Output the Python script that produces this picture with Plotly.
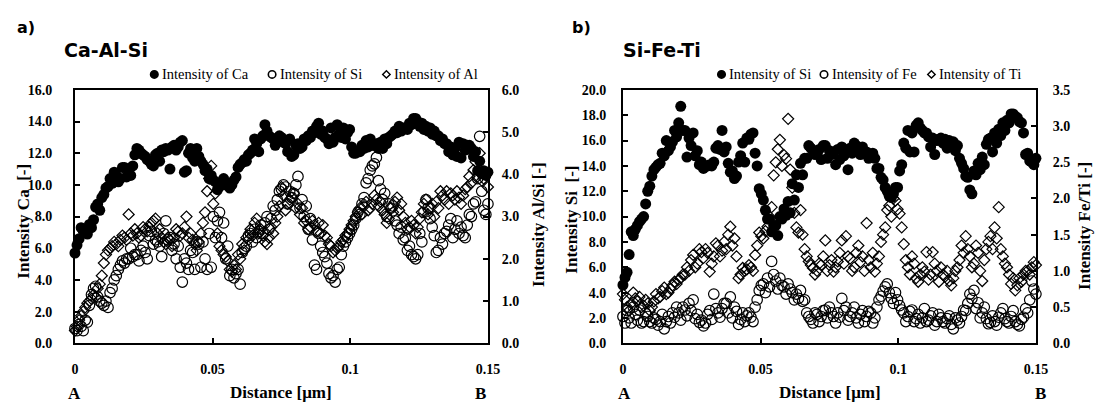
import plotly.graph_objects as go

# ---------------- data ----------------
DIST = [0.0, 0.0015, 0.003, 0.0045, 0.006, 0.0075, 0.009, 0.0105, 0.012, 0.0135,
        0.015, 0.0165, 0.018, 0.0195, 0.021, 0.0225, 0.024, 0.0255, 0.027, 0.0285,
        0.03, 0.0315, 0.033, 0.0345, 0.036, 0.0375, 0.039, 0.0405, 0.042, 0.0435,
        0.045, 0.0465, 0.048, 0.0495, 0.051, 0.0525, 0.054, 0.0555, 0.057, 0.0585,
        0.06, 0.0615, 0.063, 0.0645, 0.066, 0.0675, 0.069, 0.0705, 0.072, 0.0735,
        0.075, 0.0765, 0.078, 0.0795, 0.081, 0.0825, 0.084, 0.0855, 0.087, 0.0885,
        0.09, 0.0915, 0.093, 0.0945, 0.096, 0.0975, 0.099, 0.1005, 0.102, 0.1035,
        0.105, 0.1065, 0.108, 0.1095, 0.111, 0.1125, 0.114, 0.1155, 0.117, 0.1185,
        0.12, 0.1215, 0.123, 0.1245, 0.126, 0.1275, 0.129, 0.1305, 0.132, 0.1335,
        0.135, 0.1365, 0.138, 0.1395, 0.141, 0.1425, 0.144, 0.1455, 0.147, 0.1485, 0.15]

DIST_MID = [0.00075, 0.00225, 0.00375, 0.00525, 0.00675, 0.00825, 0.00975, 0.01125, 0.01275, 0.01425,
            0.01575, 0.01725, 0.01875, 0.02025, 0.02175, 0.02325, 0.02475, 0.02625, 0.02775, 0.02925,
            0.03075, 0.03225, 0.03375, 0.03525, 0.03675, 0.03825, 0.03975, 0.04125, 0.04275, 0.04425,
            0.04575, 0.04725, 0.04875, 0.05025, 0.05175, 0.05325, 0.05475, 0.05625, 0.05775, 0.05925,
            0.06075, 0.06225, 0.06375, 0.06525, 0.06675, 0.06825, 0.06975, 0.07125, 0.07275, 0.07425,
            0.07575, 0.07725, 0.07875, 0.08025, 0.08175, 0.08325, 0.08475, 0.08625, 0.08775, 0.08925,
            0.09075, 0.09225, 0.09375, 0.09525, 0.09675, 0.09825, 0.09975, 0.10125, 0.10275, 0.10425,
            0.10575, 0.10725, 0.10875, 0.11025, 0.11175, 0.11325, 0.11475, 0.11625, 0.11775, 0.11925,
            0.12075, 0.12225, 0.12375, 0.12525, 0.12675, 0.12825, 0.12975, 0.13125, 0.13275, 0.13425,
            0.13575, 0.13725, 0.13875, 0.14025, 0.14175, 0.14325, 0.14475, 0.14625, 0.14775, 0.14925]

# panel a) Ca-Al-Si
CA_A = [5.7, 6.6, 7.1, 6.9, 7.3, 8.6, 8.4, 9.4, 9.9, 10.1,
        10.6, 10.4, 11.1, 10.9, 11.2, 12.3, 12.0, 11.8, 11.5, 11.2,
        12.0, 12.2, 12.3, 11.0, 12.5, 12.4, 12.8, 10.9, 12.3, 11.5,
        11.8, 11.3, 11.0, 10.6, 10.2, 9.9, 10.4, 10.1, 10.0, 10.5,
        11.3, 11.6, 11.9, 12.2, 12.6, 12.9, 13.8, 13.1, 12.9, 12.7,
        13.0, 12.6, 12.9, 11.9, 12.6, 12.4, 12.8, 13.0, 13.3, 13.9,
        13.4, 12.9, 13.6, 13.0, 13.2, 13.6, 13.3, 12.4, 12.0, 12.1,
        12.3, 12.4, 12.5, 12.6, 12.7, 12.9, 13.0, 13.2, 13.3, 13.4,
        13.6, 13.9, 14.2, 14.0, 13.9, 13.7, 13.6, 13.4, 13.1, 12.9,
        12.6, 12.4, 12.3, 12.7, 12.6, 12.5, 12.3, 12.1, 11.5, 10.9, 10.8]
CA_A_MID = [6.2, 7.3, 7.0, 7.5, 7.8, 8.8, 9.2, 9.8, 10.4, 10.8,
            10.2, 11.1, 10.5, 10.6, 11.9, 12.2, 11.9, 11.6, 11.3, 11.9,
            11.5, 12.1, 12.2, 12.4, 12.2, 12.7, 10.8, 12.0, 11.7, 12.3,
            11.5, 10.9, 10.4, 10.3, 9.7, 10.1, 10.0, 9.8, 10.3, 11.1,
            11.4, 11.5, 12.0, 12.9, 12.1, 13.1, 13.4, 13.0, 12.5, 13.1,
            12.7, 12.1, 11.8, 12.5, 12.3, 12.9, 13.1, 13.4, 13.7, 13.2,
            13.0, 12.6, 12.7, 13.8, 13.0, 12.9, 13.5, 12.0, 12.1, 12.5,
            12.8, 12.9, 12.5, 12.3, 12.3, 12.6, 13.1, 13.4, 13.7, 13.6,
            13.5, 13.8, 14.2, 13.7, 13.5, 13.4, 13.2, 13.1, 12.8, 12.6,
            12.1, 11.9, 11.8, 11.7, 12.2, 12.5, 11.8, 10.9, 10.7, 10.6]

SI_A = [0.35, 0.45, 0.3, 0.5, 1.15, 1.35, 1.0, 0.9, 0.85, 1.3,
        1.6, 1.85, 1.9, 2.0, 2.05, 2.1, 2.2, 2.15, 2.55, 2.35,
        2.4, 2.05, 2.9, 2.5, 2.35, 2.3, 1.45, 1.9, 2.2, 1.75,
        2.35, 2.4, 1.75, 1.8, 2.5, 3.1, 2.85, 2.3, 1.75, 1.65,
        1.4, 2.25, 2.55, 2.4, 2.5, 2.8, 2.85, 2.7, 3.25, 3.4,
        3.65, 3.7, 3.6, 3.55, 3.95, 3.4, 3.25, 2.95, 1.85, 2.6,
        2.15, 1.9, 1.55, 1.45, 1.8, 2.3, 2.5, 2.7, 2.95, 3.05,
        3.45, 3.9, 4.2, 4.4, 3.65, 3.55, 3.3, 3.25, 2.8, 2.75,
        2.5, 2.3, 2.05, 2.1, 2.4, 3.4, 2.95, 2.55, 2.2, 2.35,
        2.65, 2.95, 2.7, 2.6, 2.55, 2.8, 3.0, 3.35, 4.9, 3.15, 3.3]
SI_A_MID = [0.3, 0.4, 0.55, 0.9, 1.3, 1.1, 0.95, 1.0, 1.2, 1.5,
            1.75, 1.95, 2.0, 2.25, 2.1, 1.95, 2.3, 2.0, 2.65, 2.45,
            2.3, 2.6, 2.45, 2.2, 2.0, 1.8, 2.0, 1.75, 2.15, 2.4,
            1.8, 2.0, 2.6, 3.0, 2.9, 2.5, 2.0, 1.6, 1.55, 1.75,
            2.15, 2.3, 2.6, 2.7, 2.65, 2.6, 3.0, 2.95, 3.15, 3.6,
            3.75, 3.3, 3.45, 3.75, 3.2, 3.0, 2.7, 2.45, 1.75, 2.3,
            2.05, 1.65, 1.6, 1.75, 2.1, 2.4, 2.6, 2.8, 3.1, 3.3,
            3.8, 4.1, 4.25, 3.85, 3.4, 3.0, 3.2, 2.9, 2.6, 2.45,
            2.2, 2.1, 2.0, 2.6, 3.1, 3.2, 2.75, 2.15, 2.5, 2.6,
            2.8, 2.5, 2.9, 2.75, 2.5, 3.05, 3.3, 3.9, 3.6, 3.05]

AL_A = [0.3, 0.55, 0.75, 0.95, 1.05, 1.1, 1.4, 1.9, 2.2, 2.3,
        2.35, 2.45, 2.5, 3.05, 2.55, 2.6, 2.55, 2.7, 2.75, 2.9,
        2.6, 2.5, 2.35, 2.45, 2.5, 2.65, 2.6, 3.0, 2.6, 2.35,
        2.4, 2.85, 3.6, 4.2, 3.55, 2.3, 2.1, 1.95, 1.7, 1.75,
        2.0, 2.2, 2.45, 2.55, 2.95, 2.7, 2.4, 2.5, 2.6, 3.0,
        3.7, 3.15, 3.4, 3.55, 3.3, 3.2, 2.9, 2.75, 2.8, 2.85,
        2.8, 2.5, 2.3, 2.2, 2.3, 2.45, 2.6, 2.8, 3.0, 3.2,
        3.25, 3.15, 3.3, 3.4, 3.35, 3.05, 2.95, 3.1, 3.45, 3.3,
        2.85, 2.75, 2.8, 2.75, 3.1, 3.4, 3.2, 3.0, 3.2, 3.5,
        3.6, 3.55, 3.4, 3.45, 3.5, 3.7, 3.8, 4.3, 4.5, 3.9, 3.7]
AL_A_MID = [0.4, 0.65, 0.85, 1.0, 1.15, 1.3, 1.6, 2.1, 2.25, 2.4,
            2.3, 2.55, 2.45, 2.6, 2.7, 2.5, 2.75, 2.65, 2.85, 2.95,
            2.7, 2.4, 2.5, 2.3, 2.7, 2.55, 2.75, 2.5, 2.45, 2.2,
            2.6, 3.1, 3.9, 3.3, 2.6, 2.2, 2.05, 1.75, 1.85, 2.1,
            2.35, 2.5, 2.7, 2.85, 2.6, 2.55, 2.35, 2.75, 2.85, 3.25,
            3.5, 3.3, 3.45, 3.2, 3.05, 2.85, 2.7, 2.9, 2.65, 2.6,
            2.55, 2.35, 2.15, 2.25, 2.4, 2.55, 2.7, 2.9, 3.1, 3.05,
            3.35, 3.2, 3.5, 3.25, 3.15, 2.85, 3.2, 3.35, 3.15, 3.0,
            2.7, 2.9, 2.6, 2.95, 3.3, 3.05, 3.3, 3.35, 3.6, 3.4,
            3.3, 3.5, 3.6, 3.3, 3.65, 3.95, 4.1, 3.95, 3.85, 4.0]

# panel b) Si-Fe-Ti
SI_B = [4.6, 5.6, 8.8, 9.0, 9.6, 10.0, 12.0, 13.2, 13.9, 14.2,
        14.8, 15.2, 15.9, 16.3, 18.7, 16.8, 16.2, 16.6, 15.2, 14.3,
        14.0, 14.1, 14.3, 15.6, 16.8, 15.5, 13.5, 13.0, 14.3, 15.8,
        16.2, 16.5, 15.0, 12.2, 11.3, 9.8, 8.8, 9.3, 10.0, 10.6,
        11.2, 12.6, 13.3, 14.2, 14.6, 15.6, 15.2, 15.0, 14.5, 15.6,
        15.2, 15.1, 15.3, 15.5, 15.2, 15.4, 15.8, 15.3, 15.5, 15.1,
        14.9, 14.6, 13.8, 12.9, 12.0, 11.5, 12.3, 13.6, 15.8, 16.8,
        16.6, 17.2, 17.0, 16.6, 16.3, 16.2, 16.0, 16.2, 16.1, 16.0,
        15.9, 15.6, 14.2, 13.2, 12.1, 13.6, 14.2, 14.7, 15.7, 16.2,
        16.6, 16.9, 17.4, 17.6, 18.1, 17.9, 17.5, 16.6, 15.0, 14.3, 14.6]
SI_B_MID = [5.2, 7.0, 8.5, 9.3, 9.8, 11.0, 12.4, 13.7, 14.1, 15.0,
            16.0, 15.5, 16.8, 17.4, 16.8, 14.7, 15.6, 14.8, 14.1, 13.8,
            14.0, 14.0, 15.4, 15.3, 15.1, 14.2, 13.6, 13.2, 14.8, 14.3,
            16.1, 16.6, 14.0, 11.8, 10.5, 9.8, 9.3, 8.5, 9.8, 10.1,
            10.3, 11.3, 12.3, 13.3, 14.6, 15.4, 14.9, 15.3, 15.6, 14.6,
            14.9, 14.1, 14.5, 14.8, 13.7, 15.0, 15.6, 14.9, 15.1, 14.6,
            15.0, 13.8, 13.1, 12.3, 11.6, 11.8, 12.3, 14.1, 15.4, 15.1,
            15.1, 17.4, 16.8, 16.6, 15.5, 14.9, 16.1, 15.8, 15.4, 15.6,
            15.2, 14.6, 13.8, 13.1, 11.8, 13.3, 13.7, 14.1, 16.1, 15.1,
            15.8, 16.4, 16.8, 17.4, 18.1, 17.8, 17.4, 14.9, 14.4, 14.1]

FE_B = [0.37, 0.45, 0.28, 0.4, 0.46, 0.3, 0.37, 0.28, 0.33, 0.3,
        0.2, 0.37, 0.42, 0.5, 0.32, 0.46, 0.55, 0.6, 0.4, 0.32,
        0.28, 0.45, 0.68, 0.42, 0.48, 0.55, 0.64, 0.5, 0.26, 0.42,
        0.38, 0.36, 0.5, 0.73, 0.82, 0.9, 1.13, 0.86, 0.9, 0.78,
        0.82, 0.7, 0.68, 0.73, 0.6, 0.37, 0.28, 0.4, 0.37, 0.46,
        0.5, 0.37, 0.42, 0.62, 0.5, 0.37, 0.5, 0.28, 0.45, 0.37,
        0.42, 0.35, 0.6, 0.72, 0.82, 0.62, 0.7, 0.52, 0.42, 0.37,
        0.46, 0.34, 0.28, 0.48, 0.32, 0.42, 0.3, 0.35, 0.28, 0.38,
        0.2, 0.32, 0.37, 0.45, 0.68, 0.73, 0.56, 0.42, 0.34, 0.29,
        0.3, 0.36, 0.48, 0.3, 0.37, 0.3, 0.24, 0.36, 0.42, 0.86, 0.68]
FE_B_MID = [0.28, 0.35, 0.5, 0.32, 0.28, 0.42, 0.3, 0.35, 0.25, 0.4,
            0.3, 0.28, 0.36, 0.42, 0.5, 0.38, 0.45, 0.34, 0.29, 0.24,
            0.4, 0.33, 0.48, 0.36, 0.55, 0.42, 0.35, 0.44, 0.33, 0.3,
            0.42, 0.3, 0.6, 0.8, 0.7, 0.78, 0.95, 0.75, 0.8, 0.68,
            0.75, 0.6, 0.62, 0.58, 0.42, 0.33, 0.42, 0.3, 0.45, 0.35,
            0.42, 0.28, 0.36, 0.45, 0.32, 0.42, 0.35, 0.4, 0.3, 0.44,
            0.28, 0.5, 0.65, 0.78, 0.7, 0.55, 0.6, 0.46, 0.3, 0.44,
            0.3, 0.4, 0.35, 0.3, 0.38, 0.25, 0.4, 0.3, 0.34, 0.26,
            0.35, 0.28, 0.46, 0.55, 0.62, 0.48, 0.35, 0.5, 0.27, 0.38,
            0.25, 0.42, 0.34, 0.28, 0.45, 0.26, 0.33, 0.48, 0.6, 0.75]

TI_B = [0.68, 0.5, 0.55, 0.62, 0.64, 0.52, 0.55, 0.5, 0.68, 0.64,
        0.77, 0.7, 0.8, 0.82, 0.9, 0.95, 1.0, 1.22, 1.1, 1.26,
        1.3, 0.99, 1.2, 1.35, 1.28, 1.3, 1.61, 1.45, 0.9, 1.04,
        1.02, 1.05, 1.22, 1.53, 1.45, 1.61, 1.88, 2.5, 2.81, 2.6,
        3.1, 2.15, 1.6, 1.84, 1.3, 1.13, 1.04, 1.0, 1.08, 1.42,
        1.08, 0.99, 1.13, 1.42, 1.48, 1.17, 1.05, 1.35, 1.2, 1.66,
        1.05, 0.99, 1.2, 1.5, 1.84, 1.75, 1.97, 1.79, 1.37, 1.05,
        1.2, 0.9, 0.95, 0.99, 0.88, 1.26, 1.0, 1.05, 0.92, 0.86,
        0.9, 1.05, 1.35, 1.48, 1.2, 1.1, 1.25, 0.86, 1.3, 1.48,
        1.6, 1.88, 1.2, 1.05, 0.82, 0.73, 0.9, 0.95, 1.0, 1.05, 1.08]
TI_B_MID = [0.6, 0.45, 0.7, 0.58, 0.5, 0.6, 0.45, 0.58, 0.62, 0.72,
            0.68, 0.75, 0.85, 0.88, 0.95, 1.05, 1.15, 1.05, 1.3, 1.18,
            1.25, 1.1, 1.38, 1.2, 1.4, 1.5, 1.35, 1.2, 0.95, 1.0,
            1.08, 1.0, 1.35, 1.48, 1.55, 1.75, 2.32, 2.68, 2.45, 2.55,
            2.4, 1.8, 1.53, 1.5, 1.2, 1.08, 0.95, 1.1, 1.2, 1.0,
            1.15, 1.05, 1.25, 1.1, 1.2, 1.0, 1.25, 1.12, 1.0, 1.15,
            1.25, 1.1, 1.4, 1.6, 1.9, 2.0, 1.85, 1.6, 1.15, 0.95,
            1.1, 0.85, 1.05, 1.26, 0.95, 1.1, 0.85, 0.95, 1.0, 0.8,
            1.0, 1.15, 1.25, 1.3, 1.05, 1.35, 1.0, 1.15, 1.4, 1.3,
            1.45, 1.3, 1.1, 0.95, 0.9, 0.8, 0.85, 1.0, 0.95, 1.12]

X_TICKS = [0, 0.05, 0.1, 0.15]
X_TICK_TEXT = ["0", "0.05", "0.1", "0.15"]
LEGEND_A = ["Intensity of Ca", "Intensity of Si", "Intensity of Al"]
LEGEND_B = ["Intensity of Si", "Intensity of Fe", "Intensity of Ti"]

# ---------------- layout helpers ----------------
W, H = 1110, 412
def px(x):
    return x / W
def py(y):
    return 1 - y / H

SERIF = "Liberation Serif, Times New Roman, serif"
SANS = "DejaVu Sans, Noto Sans, sans-serif"

A_DOM = [px(72), px(491)]
B_DOM = [px(628), px(1047)]
Y_DOM = [py(349), py(86)]

fig = go.Figure()

def filled(x, y, name, xa, ya):
    return go.Scatter(x=x, y=y, mode="markers", name=name, xaxis=xa, yaxis=ya,
                      showlegend=False, cliponaxis=False,
                      marker=dict(symbol="circle", size=11, color="black",
                                  line=dict(width=0)))

def open_circle(x, y, name, xa, ya):
    return go.Scatter(x=x, y=y, mode="markers", name=name, xaxis=xa, yaxis=ya,
                      showlegend=False, cliponaxis=False,
                      marker=dict(symbol="circle-open", size=10.5, color="black",
                                  line=dict(width=1.2, color="black")))

def open_diamond(x, y, name, xa, ya):
    return go.Scatter(x=x, y=y, mode="markers", name=name, xaxis=xa, yaxis=ya,
                      showlegend=False, cliponaxis=False,
                      marker=dict(symbol="diamond-open", size=8.5, color="black",
                                  line=dict(width=1.2, color="black")))

fig.add_trace(filled(DIST + DIST_MID, CA_A + CA_A_MID, LEGEND_A[0], "x", "y"))
fig.add_trace(open_circle(DIST + DIST_MID, SI_A + SI_A_MID, LEGEND_A[1], "x", "y2"))
fig.add_trace(open_diamond(DIST + DIST_MID, AL_A + AL_A_MID, LEGEND_A[2], "x", "y2"))

fig.add_trace(filled(DIST + DIST_MID, SI_B + SI_B_MID, LEGEND_B[0], "x2", "y3"))
fig.add_trace(open_circle(DIST + DIST_MID, FE_B + FE_B_MID, LEGEND_B[1], "x2", "y4"))
fig.add_trace(open_diamond(DIST + DIST_MID, TI_B + TI_B_MID, LEGEND_B[2], "x2", "y4"))

tickfont = dict(family=SERIF, size=14, color="black", weight="bold")
line_common = dict(showline=True, linecolor="black", linewidth=2,
                   showgrid=False, zeroline=False, ticks="inside",
                   ticklen=5, tickwidth=1.5, tickcolor="black",
                   tickfont=tickfont)

xa_common = dict(range=[0, 0.15], tickvals=X_TICKS, ticktext=X_TICK_TEXT,
                 mirror=True, ticklabelstandoff=12, **line_common)

fig.update_layout(
    width=W, height=H,
    margin=dict(l=0, r=0, t=0, b=0),
    paper_bgcolor="white", plot_bgcolor="white",
    showlegend=False,
    xaxis=dict(domain=A_DOM, anchor="y", **xa_common),
    xaxis2=dict(domain=B_DOM, anchor="y3", **xa_common),
    yaxis=dict(domain=Y_DOM, anchor="x", range=[0, 16], dtick=2,
               tickformat=".1f", ticklabelstandoff=18, **line_common),
    yaxis2=dict(domain=Y_DOM, anchor="x", overlaying="y", side="right",
                range=[0, 6], dtick=1, tickformat=".1f",
                ticklabelstandoff=9, **line_common),
    yaxis3=dict(domain=Y_DOM, anchor="x2", range=[0, 20], dtick=2,
                tickformat=".1f", ticklabelstandoff=12, **line_common),
    yaxis4=dict(domain=Y_DOM, anchor="x2", overlaying="y3", side="right",
                range=[0, 3.5], dtick=0.5, tickformat=".1f",
                ticklabelstandoff=12, **line_common),
)

ann = []
def text(x, y, t, size, family=SERIF, angle=0, xanchor="center", bold=True):
    ann.append(dict(x=px(x), y=py(y), xref="paper", yref="paper", text=t,
                    showarrow=False, textangle=angle, xanchor=xanchor,
                    yanchor="middle",
                    font=dict(family=family, size=size, color="black",
                              weight="bold" if bold else "normal")))

# panel labels and titles
text(11, 21, "a)", 16, SANS, xanchor="left")
text(59, 45, "Ca-Al-Si", 19, SANS, xanchor="left")
text(574, 21, "b)", 16, SANS, xanchor="left")
text(626, 45, "Si-Fe-Ti", 19, SANS, xanchor="left")

# axis titles
text(20, 222, "Intensity Ca  [-]", 17, angle=-90)
text(543, 226, "Intensity Al/Si [-]", 17, angle=-90)
text(576, 221, "Intensity Si  [-]", 17, angle=-90)
text(1097, 227, "Intensity Fe/Ti [-]", 17, angle=-90)

text(281, 400, "Distance [μm]", 17)
text(838, 400, "Distance [μm]", 17)
text(72, 401, "A", 17)
text(483, 401, "B", 17)
text(630, 401, "A", 17)
text(1052, 401, "B", 17)

# legends (symbol shapes + text)
shapes = []
def leg_circle(cx, cy, filled_):
    r = 3.8
    shapes.append(dict(type="circle", xref="paper", yref="paper",
                       x0=px(cx - r), x1=px(cx + r), y0=py(cy + r), y1=py(cy - r),
                       line=dict(color="black", width=1.6),
                       fillcolor="black" if filled_ else "white"))

def leg_diamond(cx, cy):
    r = 3.8
    path = "M {} {} L {} {} L {} {} L {} {} Z".format(
        px(cx), py(cy - r), px(cx + r), py(cy), px(cx), py(cy + r), px(cx - r), py(cy))
    shapes.append(dict(type="path", xref="paper", yref="paper", path=path,
                       line=dict(color="black", width=1.4), fillcolor="white"))

LEG_Y = 70
LEG_FONT = 14.5
for (cx, kind), label, tx in zip([(152.5, "f"), (272, "o"), (388, "d")], LEGEND_A,
                                 [158.5, 278, 394]):
    if kind == "d":
        leg_diamond(cx, LEG_Y)
    else:
        leg_circle(cx, LEG_Y, kind == "f")
    text(tx, LEG_Y, label, LEG_FONT, xanchor="left", bold=False)

for (cx, kind), label, tx in zip([(728, "f"), (832, "o"), (941, "d")], LEGEND_B,
                                 [734, 838, 947]):
    if kind == "d":
        leg_diamond(cx, LEG_Y)
    else:
        leg_circle(cx, LEG_Y, kind == "f")
    text(tx, LEG_Y, label, LEG_FONT, xanchor="left", bold=False)

fig.update_layout(annotations=ann, shapes=shapes)

fig.write_html("out.html")
